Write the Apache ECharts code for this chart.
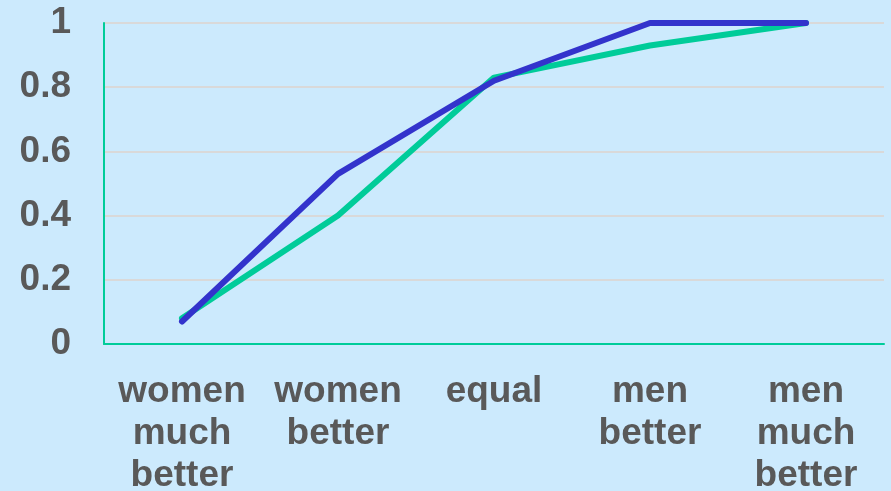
<!DOCTYPE html>
<html>
<head>
<meta charset="utf-8">
<script src="https://cdn.jsdelivr.net/npm/echarts@6/dist/echarts.min.js"></script>
<style>
  html, body { margin: 0; padding: 0; background: #cceafd; }
  #chartmain { width: 891px; height: 491px; }
</style>
</head>
<body>
<div id="chartmain"></div>
<script>
// categories and series values
var categories = ['women\nmuch\nbetter', 'women\nbetter', 'equal', 'men\nbetter', 'men\nmuch\nbetter'];
var greenValues = [0.08, 0.40, 0.83, 0.93, 1.0];
var blueValues = [0.07, 0.53, 0.82, 1.0, 1.0];
var yTicks = [0, 0.2, 0.4, 0.6, 0.8, 1];

var myChart = echarts.init(document.getElementById('chartmain'));
myChart.setOption({
  backgroundColor: '#cceafd',
  animation: false,
  grid: {
    left: 104,
    right: 7,
    top: 23,
    bottom: 147,
    containLabel: false,
    outerBoundsMode: 'none'
  },
  xAxis: {
    type: 'category',
    boundaryGap: true,
    data: categories,
    axisLine: { lineStyle: { color: '#00cc99', width: 2 } },
    axisTick: { show: false },
    axisLabel: {
      color: '#595959',
      fontFamily: 'Liberation Sans, Arial',
      fontWeight: 'bold',
      fontSize: 37,
      lineHeight: 42,
      margin: 27,
      interval: 0
    }
  },
  yAxis: {
    type: 'value',
    min: 0,
    max: 1,
    interval: 0.2,
    axisLine: { show: true, lineStyle: { color: '#00cc99', width: 2 } },
    axisTick: { show: false },
    splitLine: { lineStyle: { color: '#d9d9d9', width: 2 } },
    axisLabel: {
      color: '#595959',
      fontFamily: 'Liberation Sans, Arial',
      fontWeight: 'bold',
      fontSize: 37,
      margin: 33,
      formatter: function (v) {
        // show ticks like 0, 0.2 ... 1
        for (var i = 0; i < yTicks.length; i++) {
          if (Math.abs(yTicks[i] - v) < 1e-6) return String(yTicks[i]);
        }
        return '';
      }
    }
  },
  series: [
    {
      name: 'green',
      type: 'line',
      data: greenValues,
      symbol: 'none',
      lineStyle: { color: '#00cc99', width: 6, cap: 'round', join: 'round' }
    },
    {
      name: 'blue',
      type: 'line',
      data: blueValues,
      symbol: 'none',
      lineStyle: { color: '#3333cc', width: 6, cap: 'round', join: 'round' }
    }
  ]
});
</script>
</body>
</html>
